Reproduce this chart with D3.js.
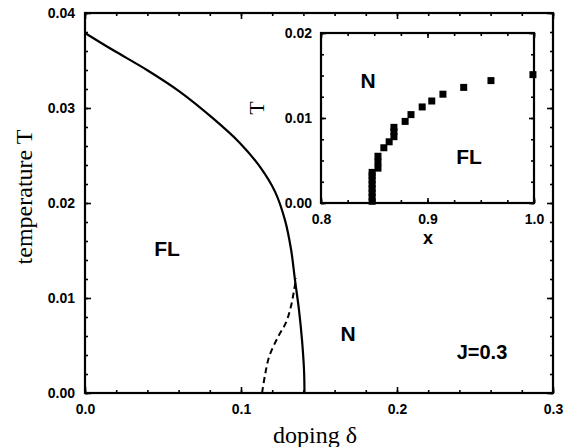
<!DOCTYPE html>
<meta charset="utf-8">
<title>Phase diagram</title>
<script src="https://d3js.org/d3.v7.min.js"></script>
<style>
body {margin: 0; background: #fff;}
.tick text {font-family: "Liberation Sans", Arial, sans-serif; font-weight: bold; font-size: 14px; fill: #000;}
.tick line {stroke: #000; stroke-width: 1.6px;}
.lbl {font-family: "Liberation Sans", Arial, sans-serif; font-weight: bold; fill: #000;}
.serif {font-family: "Liberation Serif", "Times New Roman", serif; fill: #000;}
</style>
<body>
<div id="chart"></div>
<script>
// main phase boundary (solid), doping vs T
var lineDoping = [0.0, 0.0179, 0.0397, 0.0609, 0.0821, 0.0994, 0.1122, 0.1218, 0.1282, 0.1321, 0.1346, 0.1372, 0.1391, 0.1404, 0.1407];
var lineT      = [0.0379, 0.0361, 0.0340, 0.0317, 0.0289, 0.0263, 0.0238, 0.0212, 0.0182, 0.0151, 0.0119, 0.0087, 0.0056, 0.0024, 0.0];

// dashed line
var dashDoping = [0.1135, 0.1154, 0.1180, 0.1237, 0.1288, 0.1320, 0.1340, 0.1353];
var dashT      = [0.0, 0.0019, 0.0038, 0.0059, 0.0074, 0.0091, 0.0108, 0.0121];

// inset squares, x vs T
var insetX = [0.848, 0.848, 0.848, 0.848, 0.848, 0.848, 0.848, 0.848,
              0.8535, 0.8535, 0.8535, 0.859, 0.864, 0.8685, 0.8685, 0.8685,
              0.879, 0.8845, 0.895, 0.904, 0.9145, 0.934, 0.9596, 0.999];
var insetT = [0.0002, 0.0007, 0.0012, 0.0017, 0.0022, 0.0027, 0.0032, 0.0036,
              0.0041, 0.0048, 0.0055, 0.0065, 0.0072, 0.0078, 0.0084, 0.0089,
              0.0096, 0.0104, 0.0113, 0.0120, 0.0128, 0.0136, 0.0144, 0.0151];

var xTicks = [0.0, 0.1, 0.2, 0.3];
var yTicks = [0.00, 0.01, 0.02, 0.03, 0.04];
var insetXTicks = [0.8, 0.9, 1.0];
var insetYTicks = [0.00, 0.01, 0.02];

var W = 577, H = 447;
var svg = d3.select("#chart").append("svg")
  .attr("width", W).attr("height", H);

var x = d3.scaleLinear().domain([0, 0.3]).range([85, 553]);
var y = d3.scaleLinear().domain([0, 0.04]).range([393, 13]);

function inwardAxes(g, xs, ys, xt, yt, xMinor, yMinor, fmtX, fmtY, major, minor, padY) {
  var x0 = xs.range()[0], x1 = xs.range()[1], y0 = ys.range()[0], y1 = ys.range()[1];
  // minor ticks on all sides
  g.append("g").attr("transform", "translate(0," + y0 + ")")
    .call(d3.axisBottom(xs).tickValues(xMinor).tickSizeInner(-minor).tickSizeOuter(0).tickFormat(""));
  g.append("g").attr("transform", "translate(0," + y1 + ")")
    .call(d3.axisTop(xs).tickValues(xMinor).tickSizeInner(-minor).tickSizeOuter(0).tickFormat(""));
  g.append("g").attr("transform", "translate(" + x0 + ",0)")
    .call(d3.axisLeft(ys).tickValues(yMinor).tickSizeInner(-minor).tickSizeOuter(0).tickFormat(""));
  g.append("g").attr("transform", "translate(" + x1 + ",0)")
    .call(d3.axisRight(ys).tickValues(yMinor).tickSizeInner(-minor).tickSizeOuter(0).tickFormat(""));
  // major ticks with labels
  g.append("g").attr("transform", "translate(0," + y0 + ")")
    .call(d3.axisBottom(xs).tickValues(xt).tickSizeInner(-major).tickSizeOuter(0).tickPadding(11).tickFormat(fmtX));
  g.append("g").attr("transform", "translate(0," + y1 + ")")
    .call(d3.axisTop(xs).tickValues(xt).tickSizeInner(-major).tickSizeOuter(0).tickFormat(""));
  g.append("g").attr("transform", "translate(" + x0 + ",0)")
    .call(d3.axisLeft(ys).tickValues(yt).tickSizeInner(-major).tickSizeOuter(0).tickPadding(padY).tickFormat(fmtY));
  g.append("g").attr("transform", "translate(" + x1 + ",0)")
    .call(d3.axisRight(ys).tickValues(yt).tickSizeInner(-major).tickSizeOuter(0).tickFormat(""));
  g.selectAll(".domain").remove();
  g.append("rect")
    .attr("x", x0).attr("y", y1).attr("width", x1 - x0).attr("height", y0 - y1)
    .attr("fill", "none").attr("stroke", "#000").attr("stroke-width", 2.2);
}

var main = svg.append("g");
inwardAxes(main, x, y, xTicks, yTicks,
  d3.range(0, 0.3001, 0.02), d3.range(0, 0.04001, 0.002),
  d3.format(".1f"), d3.format(".2f"), 6, 3, 10);

// solid boundary
var solid = lineDoping.map(function(d, i) { return [d, lineT[i]]; });
main.append("path")
  .datum(solid)
  .attr("fill", "none").attr("stroke", "#000").attr("stroke-width", 2.2)
  .attr("d", d3.line().curve(d3.curveCatmullRom)
    .x(function(d) { return x(d[0]); }).y(function(d) { return y(d[1]); }));

var dashed = dashDoping.map(function(d, i) { return [d, dashT[i]]; });
main.append("path")
  .datum(dashed)
  .attr("fill", "none").attr("stroke", "#000").attr("stroke-width", 2)
  .attr("stroke-dasharray", "6,4")
  .attr("d", d3.line().curve(d3.curveCatmullRom)
    .x(function(d) { return x(d[0]); }).y(function(d) { return y(d[1]); }));

main.append("text").attr("class", "lbl").attr("x", 167).attr("y", 256)
  .attr("text-anchor", "middle").style("font-size", "21px").text("FL");
main.append("text").attr("class", "lbl").attr("x", 348).attr("y", 341)
  .attr("text-anchor", "middle").style("font-size", "21px").text("N");
main.append("text").attr("class", "lbl").attr("x", 482).attr("y", 359)
  .attr("text-anchor", "middle").style("font-size", "20px").text("J=0.3");

main.append("text").attr("class", "serif")
  .attr("transform", "translate(32,197) rotate(-90)")
  .attr("text-anchor", "middle").style("font-size", "24px").text("temperature T");
main.append("text").attr("class", "serif")
  .attr("x", 315).attr("y", 443)
  .attr("text-anchor", "middle").style("font-size", "24px").text("doping  \u03b4");

// inset
var xi = d3.scaleLinear().domain([0.8, 1.0]).range([321, 534]);
var yi = d3.scaleLinear().domain([0, 0.02]).range([203, 33]);
var inset = svg.append("g");
inset.append("rect").attr("x", 321).attr("y", 33).attr("width", 213).attr("height", 170).attr("fill", "#fff");
inwardAxes(inset, xi, yi, insetXTicks, insetYTicks,
  d3.range(0.8, 1.0001, 0.025), d3.range(0, 0.02001, 0.0025),
  d3.format(".1f"), d3.format(".2f"), 5, 3, 9);

inset.selectAll("rect.pt")
  .data(insetX.map(function(d, i) { return [d, insetT[i]]; }))
  .enter().append("rect")
  .attr("class", "pt")
  .attr("x", function(d) { return xi(d[0]) - 3.5; })
  .attr("y", function(d) { return yi(d[1]) - 3.5; })
  .attr("width", 7).attr("height", 7).attr("fill", "#000");

inset.append("text").attr("class", "lbl").attr("x", 368).attr("y", 88)
  .attr("text-anchor", "middle").style("font-size", "21px").text("N");
inset.append("text").attr("class", "lbl").attr("x", 469).attr("y", 164)
  .attr("text-anchor", "middle").style("font-size", "21px").text("FL");
inset.append("text").attr("class", "lbl").attr("x", 428).attr("y", 244)
  .attr("text-anchor", "middle").style("font-size", "18px").text("x");
inset.append("text").attr("class", "serif")
  .attr("transform", "translate(264,108) rotate(-90)")
  .attr("text-anchor", "middle").style("font-size", "22px").text("T");
</script>
</body>
